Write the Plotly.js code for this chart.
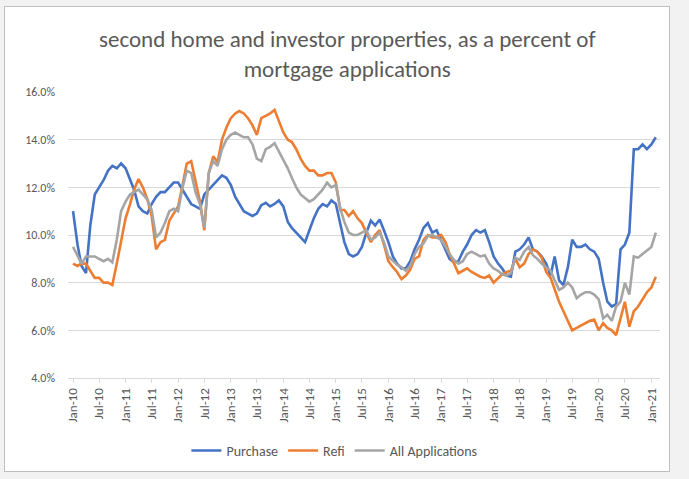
<!DOCTYPE html>
<html>
<head>
<meta charset="utf-8">
<script src="https://cdn.plot.ly/plotly-3.0.1.min.js"></script>
<style>
  html, body { margin: 0; padding: 0; background: #ffffff; }
  #wrap { position: relative; width: 689px; height: 479px; overflow: hidden; background: #f2f2f2; }
  #frame { position: absolute; left: 4px; top: 6px; width: 664px; height: 464px; background: #ffffff; border: 1px solid #bfbfbf; }
  #chart { position: absolute; left: 0; top: 0; width: 689px; height: 479px; }
</style>
</head>
<body>
<div id="wrap">
  <div id="frame"></div>
  <div id="chart"></div>
</div>
<script>
// Series names
const seriesNames = ["Purchase", "Refi", "All Applications"];

// Monthly values, Jan-2010 .. Feb-2021 (percent)
const purchase = [
  11.0, 9.6, 8.7, 8.4, 10.4, 11.7, 12.0, 12.3, 12.7, 12.9,
  12.8, 13.0, 12.8, 12.3, 11.9, 11.2, 11.0, 10.9, 11.3, 11.6,
  11.8, 11.8, 12.0, 12.2, 12.2, 11.9, 11.6, 11.3, 11.2, 11.1,
  11.7, 11.9, 12.1, 12.3, 12.5, 12.4, 12.1, 11.6, 11.3, 11.0,
  10.9, 10.8, 10.9, 11.25, 11.35, 11.2, 11.3, 11.45, 11.2, 10.55,
  10.3, 10.1, 9.9, 9.7, 10.2, 10.7, 11.1, 11.3, 11.2, 11.45,
  11.3, 10.4, 9.7, 9.2, 9.1, 9.2, 9.5, 10.1, 10.6, 10.4,
  10.65, 10.2, 9.7, 9.1, 8.8, 8.6, 8.6, 8.9, 9.4, 9.8,
  10.3, 10.5, 10.1, 10.2, 9.8, 9.4, 9.0, 8.85, 8.9, 9.3,
  9.6, 10.0, 10.2, 10.1, 10.2, 9.7, 9.1, 8.8, 8.6, 8.3,
  8.25, 9.3, 9.4, 9.6, 9.9, 9.4, 9.3, 9.1, 8.8, 8.3,
  9.1, 8.1, 7.9, 8.65, 9.8, 9.5, 9.5, 9.6, 9.4, 9.3,
  9.0, 8.0, 7.2, 7.0, 7.1, 9.4, 9.6, 10.1, 13.6, 13.6,
  13.8, 13.6, 13.8, 14.1
];
const refi = [
  8.8, 8.7, 8.8, 8.8, 8.5, 8.2, 8.2, 8.0, 8.0, 7.9,
  8.8, 9.8, 10.7, 11.3, 11.9, 12.35, 12.0, 11.5, 10.8, 9.4,
  9.7, 9.8, 10.6, 10.9, 11.2, 12.1, 13.0, 13.1, 12.3, 11.4,
  10.2, 12.6, 13.3, 13.05, 14.0, 14.5, 14.9, 15.1, 15.2, 15.1,
  14.9, 14.6, 14.2, 14.9, 15.0, 15.1, 15.25, 14.75, 14.3, 14.0,
  13.9, 13.6, 13.2, 12.9, 12.7, 12.7, 12.5, 12.5, 12.6, 12.6,
  12.2, 11.05, 11.05, 10.8, 11.0, 10.7, 10.5, 10.1, 9.7, 10.0,
  10.2, 9.6, 8.9, 8.65, 8.45, 8.15, 8.3, 8.55, 9.0, 9.1,
  9.8, 10.0, 9.9, 9.9, 10.0, 9.7, 9.2, 8.8, 8.4, 8.5,
  8.6, 8.45, 8.35, 8.25, 8.2, 8.3, 8.0, 8.2, 8.35, 8.45,
  8.5, 9.0, 8.65, 8.8, 9.2, 9.4, 9.3, 9.05, 8.45, 8.2,
  7.7, 7.2, 6.8, 6.4, 6.0, 6.1, 6.2, 6.3, 6.4, 6.45,
  6.0, 6.3, 6.1, 6.0, 5.8, 6.5, 7.2, 6.15, 6.8, 7.0,
  7.3, 7.6, 7.8, 8.25
];
const allApps = [
  9.5, 9.1, 8.8, 9.1, 9.1, 9.1, 9.0, 8.9, 9.0, 8.85,
  9.8, 11.0, 11.4, 11.7, 11.8, 11.9, 11.7, 11.5, 11.05, 9.9,
  10.1, 10.5, 11.0, 11.1, 11.0, 12.0, 12.7, 12.6, 11.8, 11.3,
  10.3, 12.6, 13.1, 12.9, 13.6, 14.0, 14.2, 14.3, 14.2, 14.1,
  14.1, 13.8, 13.2, 13.1, 13.6, 13.7, 13.85, 13.5, 13.2, 12.8,
  12.4, 12.0, 11.7, 11.55, 11.4, 11.5, 11.7, 11.9, 12.2, 12.0,
  12.1, 11.1, 10.55, 10.1, 10.0, 10.0, 10.1, 10.2, 9.8, 9.9,
  10.1, 9.7, 9.1, 8.9, 8.75, 8.65, 8.5, 8.7, 9.2, 9.5,
  9.65, 9.95, 10.0, 9.9, 9.8, 9.5, 9.2, 8.95, 8.8, 8.9,
  9.2, 9.3, 9.2, 9.1, 9.15, 8.8, 8.6, 8.5, 8.35, 8.3,
  8.4, 9.05, 8.95, 9.3, 9.5, 9.15, 9.0, 8.8, 8.65, 8.5,
  8.1, 7.7, 7.8, 8.0, 7.8, 7.35, 7.5, 7.6, 7.6, 7.5,
  7.3, 6.5, 6.65, 6.4, 7.0, 7.2, 8.0, 7.5, 9.1, 9.05,
  9.2, 9.35, 9.5, 10.1
];

// Y tick values and labels
const yTickVals = [4, 6, 8, 10, 12, 14, 16];
const yTickLabels = ["4.0%", "6.0%", "8.0%", "10.0%", "12.0%", "14.0%", "16.0%"];

// X tick labels (every six months)
const tickLabels = [
  "Jan-10","Jul-10","Jan-11","Jul-11","Jan-12","Jul-12","Jan-13","Jul-13",
  "Jan-14","Jul-14","Jan-15","Jul-15","Jan-16","Jul-16","Jan-17","Jul-17",
  "Jan-18","Jul-18","Jan-19","Jul-19","Jan-20","Jul-20","Jan-21"
];
const tickDates = [
  "2010-01-01","2010-07-01","2011-01-01","2011-07-01","2012-01-01","2012-07-01",
  "2013-01-01","2013-07-01","2014-01-01","2014-07-01","2015-01-01","2015-07-01",
  "2016-01-01","2016-07-01","2017-01-01","2017-07-01","2018-01-01","2018-07-01",
  "2019-01-01","2019-07-01","2020-01-01","2020-07-01","2021-01-01"
];
const startYear = 2010;

// Month categories
const months = [];
for (let i = 0; i < purchase.length; i++) {
  const y = startYear + Math.floor(i / 12);
  const m = (i % 12) + 1;
  months.push(y + "-" + (m < 10 ? "0" + m : m) + "-01");
}

const colors = ["#4472C4", "#ED7D31", "#A5A5A5"];
const values = [purchase, refi, allApps];

const traces = values.map((v, k) => ({
  type: "scatter",
  mode: "lines",
  name: seriesNames[k],
  x: months,
  y: v,
  line: { color: colors[k], width: 2.6 },
  hoverinfo: "x+y"
}));

const font = "Carlito, 'Liberation Sans Narrow', 'Open Sans', sans-serif";

const layout = {
  width: 689,
  height: 479,
  paper_bgcolor: "rgba(0,0,0,0)",
  plot_bgcolor: "rgba(0,0,0,0)",
  margin: { l: 68, r: 29, t: 92, b: 101 },
  title: {
    text: "second home and investor properties, as a percent of<br>mortgage applications",
    font: { family: font, size: 23, color: "#595959" },
    x: 0.504,
    xanchor: "center",
    xref: "container",
    yref: "container",
    y: 0.902,
    yanchor: "middle"
  },
  showlegend: true,
  legend: {
    orientation: "h",
    x: 0.45,
    xanchor: "center",
    y: -0.255,
    yanchor: "middle",
    font: { family: font, size: 14, color: "#595959" },
    tracegroupgap: 0
  },
  xaxis: {
    type: "date",
    range: ["2009-11-27", "2021-03-02"],
    tickvals: tickDates,
    ticktext: tickLabels,
    tickangle: -90,
    tickfont: { family: font, size: 13, color: "#595959" },
    showgrid: false,
    showline: true,
    linecolor: "#d9d9d9",
    linewidth: 1,
    ticks: "outside",
    ticklen: 4,
    tickcolor: "#d9d9d9",
    zeroline: false,
    fixedrange: true
  },
  yaxis: {
    range: [4, 16],
    tickmode: "array",
    tickvals: yTickVals,
    ticktext: yTickLabels,
    tickfont: { family: font, size: 12, color: "#595959" },
    showgrid: true,
    gridcolor: "#d9d9d9",
    gridwidth: 1,
    zeroline: false,
    showline: false,
    ticklabelstandoff: 12,
    fixedrange: true
  }
};

Plotly.newPlot("chart", traces, layout, { displayModeBar: false, staticPlot: true });
</script>
</body>
</html>
